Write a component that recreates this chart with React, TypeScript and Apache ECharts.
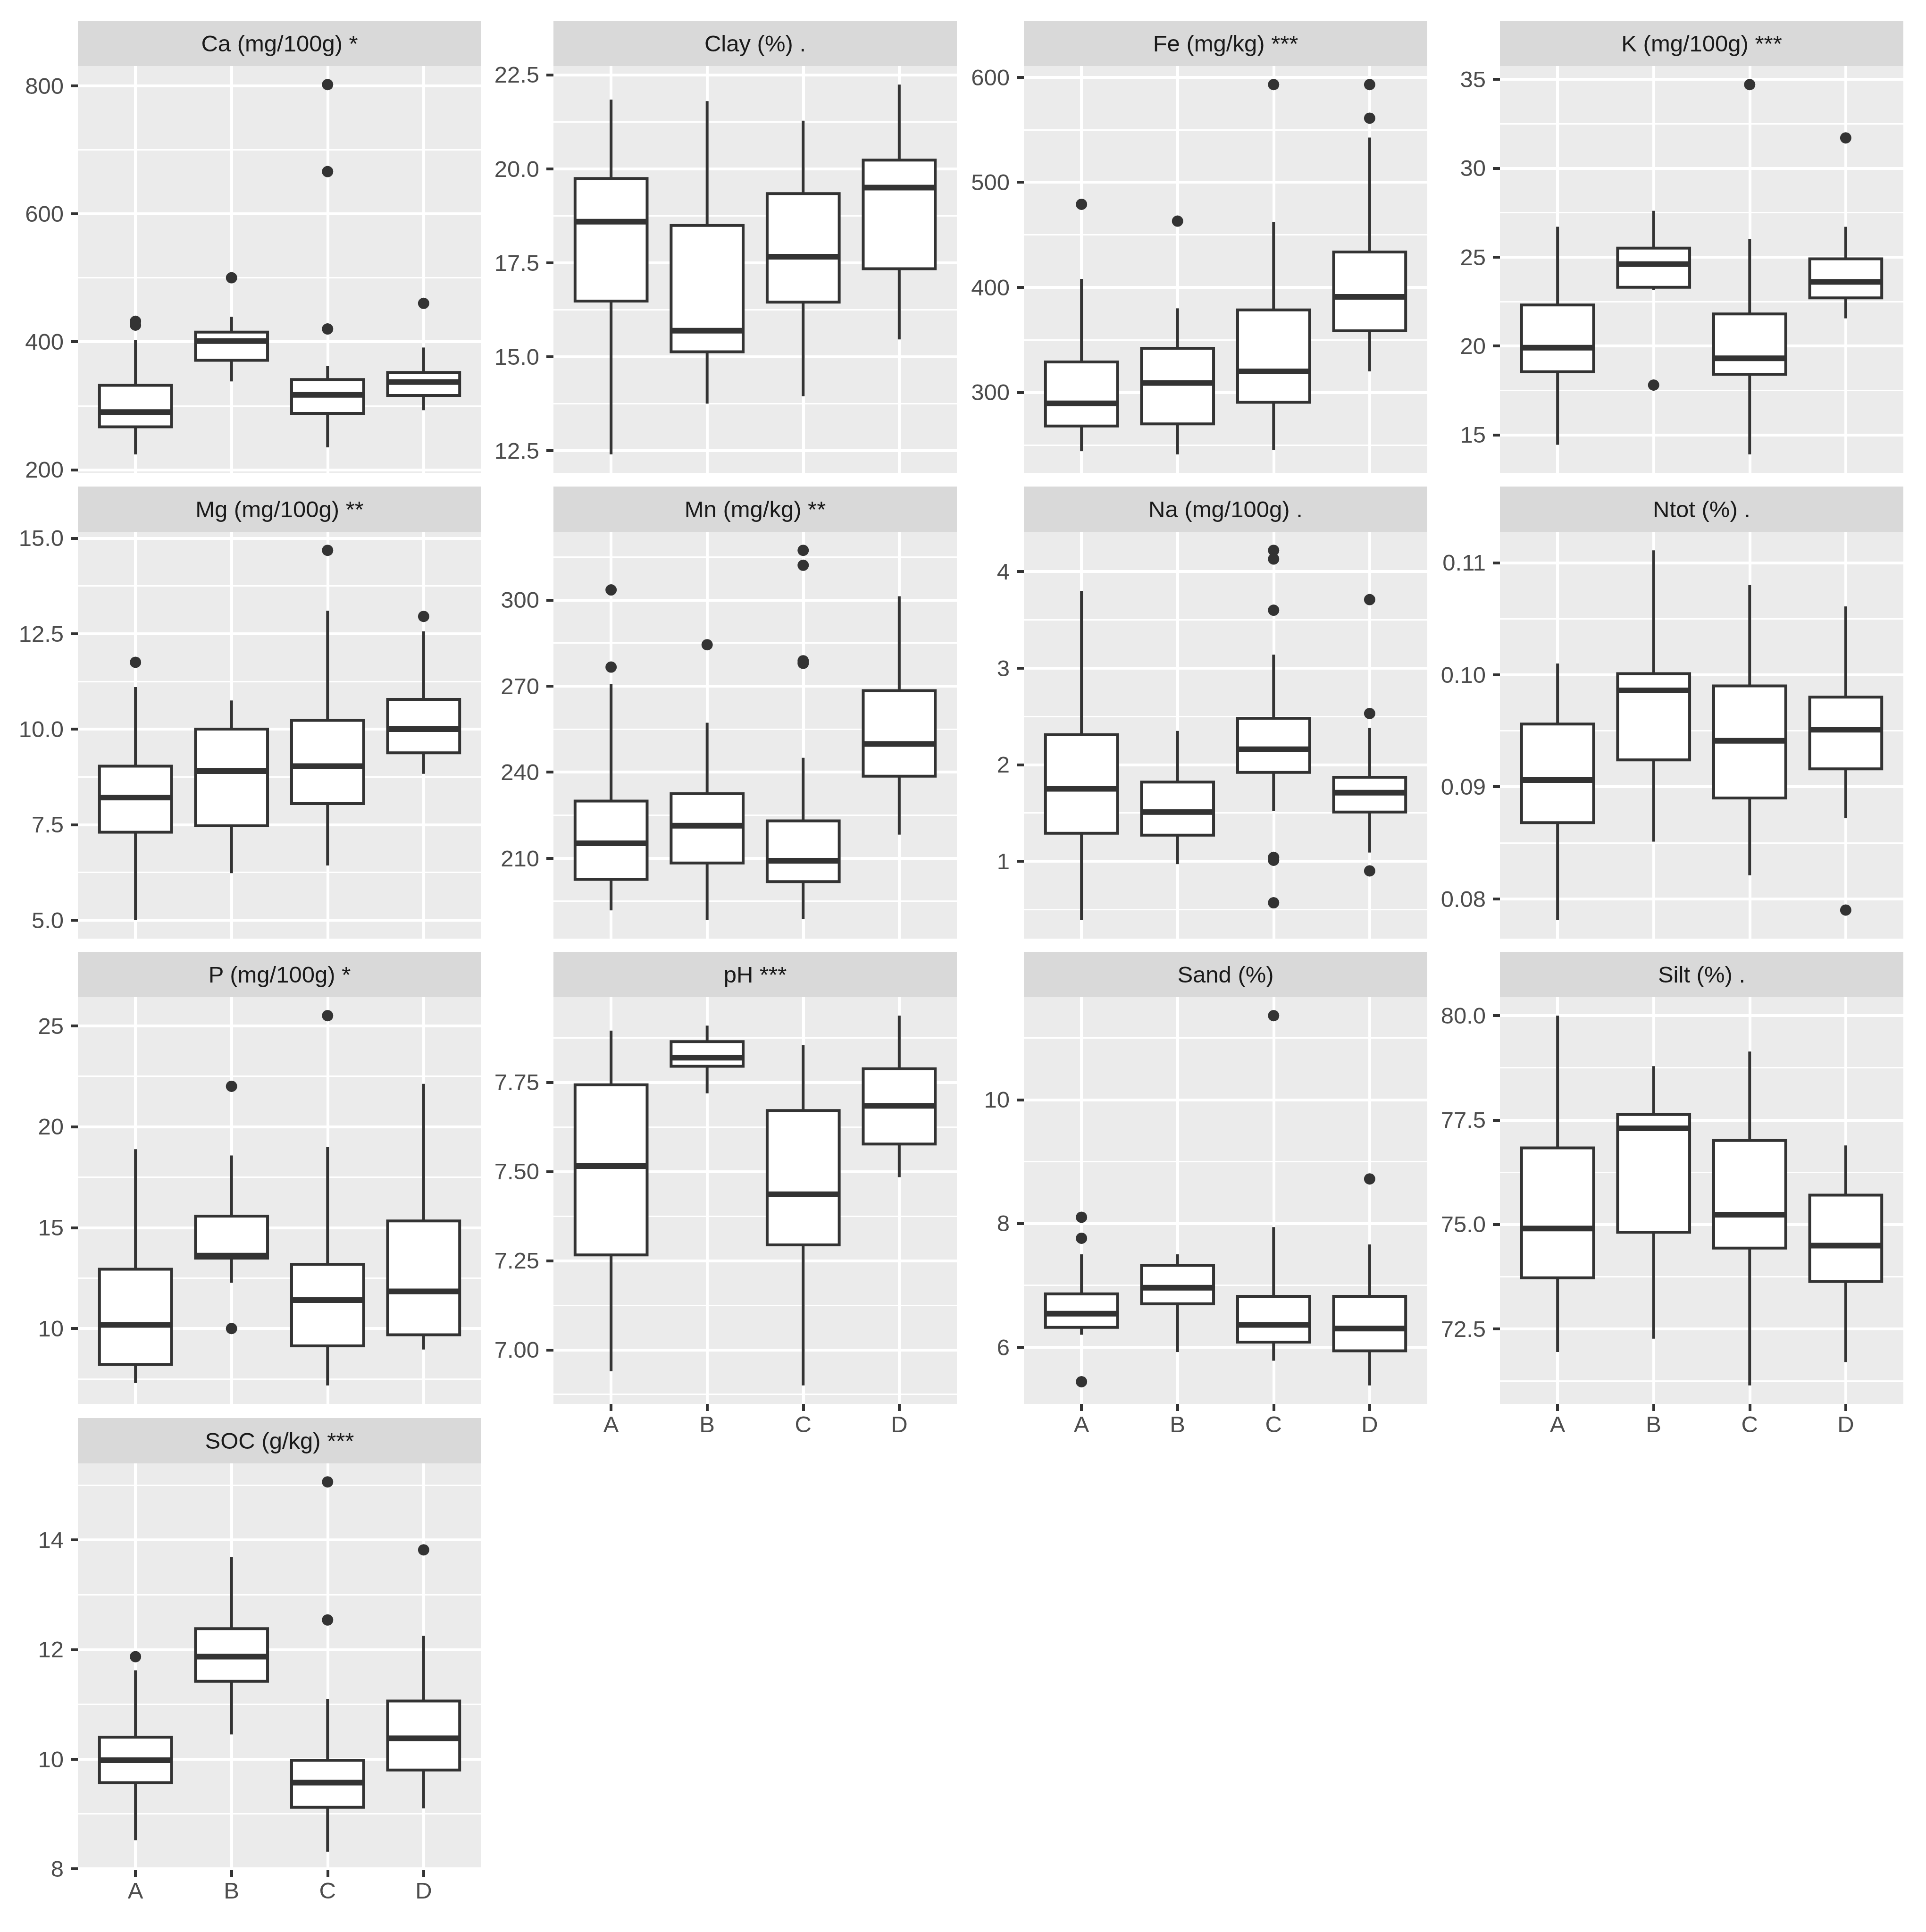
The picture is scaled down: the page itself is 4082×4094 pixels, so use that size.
import React, { useEffect, useRef } from "react";
import * as echarts from "echarts";

const categories = ["A", "B", "C", "D"];

// each box: [lower whisker, Q1, median, Q3, upper whisker]
const caBoxes = [[224, 267, 290, 332, 403], [338, 371, 401, 415, 439], [235, 288, 317, 341, 362], [293, 316, 337, 352, 391]];
const caOutliers = [[432, 426], [500], [802, 666, 420], [460]];
const caTicks = ["200", "400", "600", "800"];

const clayBoxes = [[12.4, 16.48, 18.59, 19.74, 21.84], [13.75, 15.13, 15.69, 18.49, 21.8], [13.95, 16.45, 17.66, 19.34, 21.28], [15.46, 17.34, 19.5, 20.23, 22.24]];
const clayOutliers = [[], [], [], []];
const clayTicks = ["12.5", "15.0", "17.5", "20.0", "22.5"];

const feBoxes = [[244, 268, 289.5, 329, 408], [241, 270, 309, 342, 380], [245, 290.6, 320, 378.5, 462], [320, 358.6, 391, 433.6, 542.6]];
const feOutliers = [[479], [463], [593], [593, 561]];
const feTicks = ["300", "400", "500", "600"];

const kBoxes = [[14.44, 18.55, 19.9, 22.3, 26.7], [23.15, 23.3, 24.6, 25.5, 27.6], [13.9, 18.4, 19.3, 21.8, 26.0], [21.55, 22.7, 23.6, 24.9, 26.7]];
const kOutliers = [[], [17.8], [34.7], [31.7]];
const kTicks = ["15", "20", "25", "30", "35"];

const mgBoxes = [[5.0, 7.3, 8.21, 9.03, 11.1], [6.23, 7.47, 8.9, 10.0, 10.75], [6.43, 8.05, 9.03, 10.23, 13.1], [8.83, 9.38, 10.0, 10.78, 12.56]];
const mgOutliers = [[11.75], [], [14.68], [12.95]];
const mgTicks = ["5.0", "7.5", "10.0", "12.5", "15.0"];

const mnBoxes = [[191.8, 202.6, 215.2, 229.9, 270.6], [188.4, 208.3, 221.3, 232.5, 257.2], [188.8, 201.8, 209.1, 223, 245], [218.2, 238.6, 249.8, 268.4, 301.3]];
const mnOutliers = [[303.5, 276.6], [284.4], [317.3, 312.1, 278.8, 277.9], []];
const mnTicks = ["210", "240", "270", "300"];

const naBoxes = [[0.39, 1.29, 1.75, 2.31, 3.8], [0.97, 1.27, 1.51, 1.82, 2.35], [1.52, 1.92, 2.16, 2.48, 3.14], [1.09, 1.51, 1.71, 1.87, 2.38]];
const naOutliers = [[], [], [4.22, 4.13, 3.6, 1.04, 1.01, 0.57], [3.71, 2.53, 0.9]];
const naTicks = ["1", "2", "3", "4"];

const ntotBoxes = [[0.0781, 0.0868, 0.0906, 0.0956, 0.101], [0.0851, 0.0924, 0.0986, 0.1001, 0.1111], [0.0821, 0.089, 0.0941, 0.099, 0.108], [0.0872, 0.0916, 0.0951, 0.098, 0.1061]];
const ntotOutliers = [[], [], [], [0.079]];
const ntotTicks = ["0.08", "0.09", "0.10", "0.11"];

const pBoxes = [[7.3, 8.22, 10.18, 12.94, 18.88], [12.27, 13.49, 13.61, 15.57, 18.57], [7.18, 9.14, 11.41, 13.18, 19.0], [8.96, 9.69, 11.84, 15.33, 22.12]];
const pOutliers = [[], [22.0, 10.0], [25.5], []];
const pTicks = ["10", "15", "20", "25"];

const phBoxes = [[6.94, 7.266, 7.515, 7.743, 7.895], [7.719, 7.795, 7.819, 7.864, 7.909], [6.9, 7.294, 7.436, 7.671, 7.854], [7.484, 7.577, 7.684, 7.788, 7.937]];
const phOutliers = [[], [], [], []];
const phTicks = ["7.00", "7.25", "7.50", "7.75"];

const sandBoxes = [[6.2, 6.32, 6.54, 6.86, 7.5], [5.92, 6.7, 6.96, 7.32, 7.5], [5.78, 6.08, 6.36, 6.82, 7.94], [5.38, 5.94, 6.3, 6.82, 7.66]];
const sandOutliers = [[8.1, 7.76, 5.44], [], [11.36], [8.72]];
const sandTicks = ["6", "8", "10"];

const siltBoxes = [[71.94, 73.72, 74.9, 76.83, 80.0], [72.26, 74.81, 77.3, 77.63, 78.79], [71.14, 74.43, 75.23, 77.01, 79.14], [71.7, 73.63, 74.49, 75.7, 76.89]];
const siltOutliers = [[], [], [], []];
const siltTicks = ["72.5", "75.0", "77.5", "80.0"];

const socBoxes = [[8.52, 9.57, 9.98, 10.4, 11.62], [10.45, 11.42, 11.87, 12.38, 13.69], [8.31, 9.12, 9.57, 9.98, 11.1], [9.1, 9.8, 10.38, 11.06, 12.25]];
const socOutliers = [[11.87], [], [15.06, 12.54], [13.82]];
const socTicks = ["8", "10", "12", "14"];

const panelTitles = [
  "Ca (mg/100g) *", "Clay (%) .", "Fe (mg/kg) ***", "K (mg/100g) ***",
  "Mg (mg/100g) **", "Mn (mg/kg) **", "Na (mg/100g) .", "Ntot (%) .",
  "P (mg/100g) *", "pH ***", "Sand (%)", "Silt (%) .",
  "SOC (g/kg) ***",
];

const panelBoxes = [caBoxes, clayBoxes, feBoxes, kBoxes, mgBoxes, mnBoxes, naBoxes, ntotBoxes, pBoxes, phBoxes, sandBoxes, siltBoxes, socBoxes];
const panelOutliers = [caOutliers, clayOutliers, feOutliers, kOutliers, mgOutliers, mnOutliers, naOutliers, ntotOutliers, pOutliers, phOutliers, sandOutliers, siltOutliers, socOutliers];
const panelTicks = [caTicks, clayTicks, feTicks, kTicks, mgTicks, mnTicks, naTicks, ntotTicks, pTicks, phTicks, sandTicks, siltTicks, socTicks];

// layout
const W = 4082;
const H = 4094;
const colLeft = [165, 1173, 2170, 3179];
const rowTop = [44, 1031, 2017, 3005];
const panelW = 855;
const stripH = 96;
const plotH = 862;
const FONT = "'Liberation Sans', Arial, sans-serif";
const FS = 49;
const INK = "#333333";

function buildOption() {
  const grid: any[] = [];
  const xAxis: any[] = [];
  const yAxis: any[] = [];
  const series: any[] = [];
  const graphic: any[] = [];
  const catVals = categories.map((_, k) => k + 1);

  panelTitles.forEach((title, i) => {
    const col = i % 4;
    const row = Math.floor(i / 4);
    const left = colLeft[col];
    const top = rowTop[row];
    const boxes = panelBoxes[i];
    const outs = panelOutliers[i];
    const tickLabels = panelTicks[i];
    const tickVals = tickLabels.map(Number);
    const all: number[] = [];
    boxes.forEach((b) => all.push(...b));
    outs.forEach((o) => all.push(...o));
    const lo = Math.min(...all);
    const hi = Math.max(...all);
    const pad = (hi - lo) * 0.05;
    const yMin = lo - pad;
    const yMax = hi + pad;
    const step = tickVals[1] - tickVals[0];
    const minors: number[] = [];
    for (let k = -1; k < tickVals.length; k++) {
      const v = +(tickVals[0] + (k + 0.5) * step).toFixed(10);
      if (v >= yMin && v <= yMax) minors.push(v);
    }
    const showX = i >= 9;

    grid.push({
      left, top: top + stripH, width: panelW, height: plotH,
      show: true, backgroundColor: "#EBEBEB", borderWidth: 0,
      containLabel: false, outerBoundsMode: "none",
    });

    xAxis.push({
      type: "value", gridIndex: i, min: 0.4, max: 4.6,
      axisLine: { show: false },
      axisTick: { show: showX, length: 15, lineStyle: { color: INK, width: 6 }, customValues: catVals },
      axisLabel: {
        show: showX, customValues: catVals, margin: 18,
        formatter: (v: number) => categories[Math.round(v) - 1] ?? "",
        fontSize: FS, color: "#4D4D4D", fontFamily: FONT,
      },
      splitLine: { show: true, lineStyle: { color: "#FFFFFF", width: 6 } },
      minorTick: { show: false }, minorSplitLine: { show: false },
    });

    yAxis.push({
      type: "value", gridIndex: i, min: yMin, max: yMax, position: "left",
      axisLine: { show: false },
      axisTick: { show: true, length: 15, lineStyle: { color: INK, width: 6 }, customValues: tickVals },
      axisLabel: {
        show: true, customValues: tickVals, margin: 30,
        formatter: (v: number) => {
          const k = tickVals.findIndex((t) => Math.abs(t - v) < 1e-9);
          return k >= 0 ? tickLabels[k] : "";
        },
        fontSize: FS, color: "#4D4D4D", fontFamily: FONT,
      },
      splitLine: { show: true, lineStyle: { color: "#FFFFFF", width: 6 } },
    });
    yAxis.push({
      type: "value", gridIndex: i, min: yMin, max: yMax, position: "right",
      axisLine: { show: false },
      axisTick: { show: false, customValues: minors },
      axisLabel: { show: false },
      splitLine: { show: true, lineStyle: { color: "#FFFFFF", width: 3 } },
    });

    series.push({
      type: "custom",
      xAxisIndex: i,
      yAxisIndex: 2 * i,
      z: 3,
      encode: { x: 0, y: [1, 2, 3, 4, 5] },
      data: boxes.map((b, k) => [k + 1, ...b]),
      renderItem: (params: any, api: any) => {
        const x = api.value(0);
        const pLo = api.coord([x, api.value(1)]);
        const pQ1 = api.coord([x, api.value(2)]);
        const pMed = api.coord([x, api.value(3)]);
        const pQ3 = api.coord([x, api.value(4)]);
        const pHi = api.coord([x, api.value(5)]);
        const half = api.size([0.75, 0])[0] / 2;
        const cx = pMed[0];
        return {
          type: "group",
          children: [
            { type: "line", shape: { x1: cx, y1: pLo[1], x2: cx, y2: pQ1[1] }, style: { stroke: INK, lineWidth: 6 } },
            { type: "line", shape: { x1: cx, y1: pQ3[1], x2: cx, y2: pHi[1] }, style: { stroke: INK, lineWidth: 6 } },
            { type: "rect", shape: { x: cx - half, y: pQ3[1], width: 2 * half, height: pQ1[1] - pQ3[1] }, style: { fill: "#FFFFFF", stroke: INK, lineWidth: 6 } },
            { type: "line", shape: { x1: cx - half, y1: pMed[1], x2: cx + half, y2: pMed[1] }, style: { stroke: INK, lineWidth: 12 } },
          ],
        };
      },
    });

    const pts: number[][] = [];
    outs.forEach((o, k) => o.forEach((v) => pts.push([k + 1, v])));
    series.push({
      type: "scatter",
      xAxisIndex: i,
      yAxisIndex: 2 * i,
      z: 4,
      symbol: "circle",
      symbolSize: 24,
      itemStyle: { color: INK, opacity: 1 },
      data: pts,
    });

    graphic.push({
      type: "rect", silent: true,
      shape: { x: left, y: top, width: panelW, height: stripH },
      style: { fill: "#D9D9D9" },
    });
    graphic.push({
      type: "text", silent: true,
      x: left + panelW / 2, y: top + stripH / 2,
      style: {
        text: title, fontSize: FS, fontFamily: FONT, fill: "#1A1A1A",
        align: "center", verticalAlign: "middle",
        textAlign: "center", textVerticalAlign: "middle",
      },
    });
  });

  return {
    animation: false,
    backgroundColor: "#FFFFFF",
    grid, xAxis, yAxis, series, graphic,
  };
}

export default function App() {
  const ref = useRef<HTMLDivElement>(null);
  useEffect(() => {
    if (!ref.current) return;
    const chart = echarts.init(ref.current, null, { renderer: "svg", width: W, height: H });
    chart.setOption(buildOption() as any);
    return () => chart.dispose();
  }, []);
  return (
    <div
      ref={ref}
      style={{ position: "absolute", left: 0, top: 0, width: W, height: H, background: "#FFFFFF" }}
    />
  );
}
